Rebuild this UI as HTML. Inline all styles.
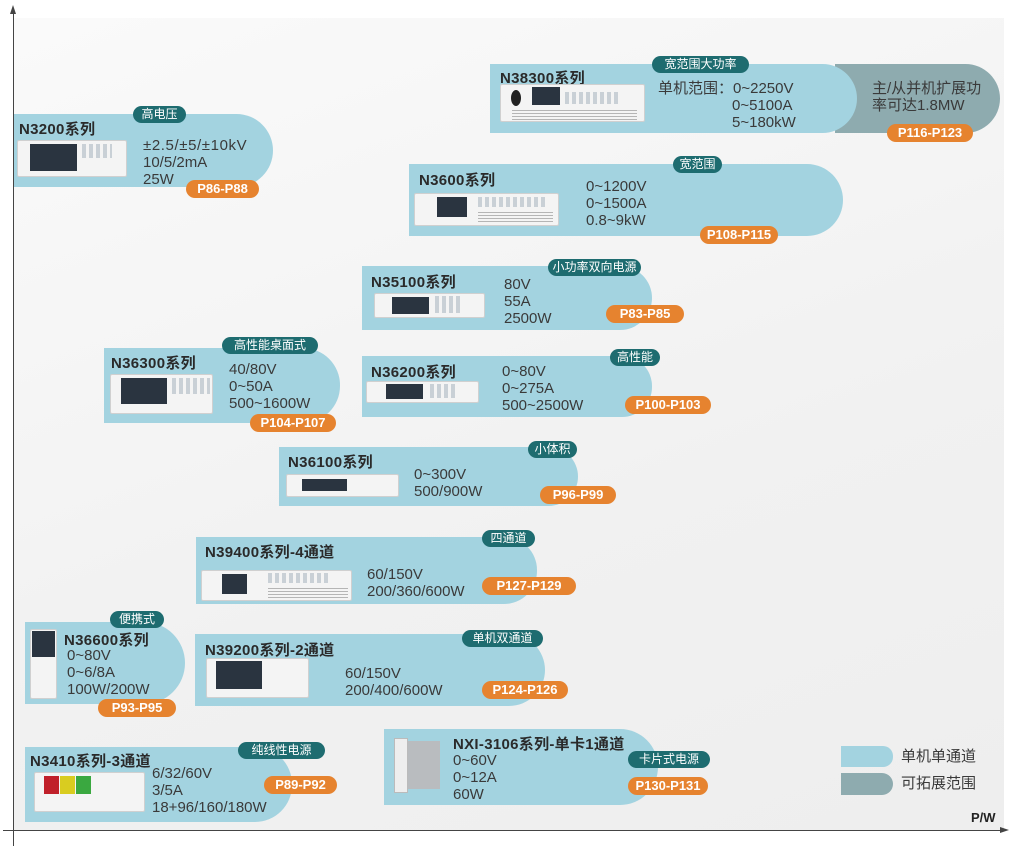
<!DOCTYPE html>
<html><head><meta charset="utf-8">
<style>
*{margin:0;padding:0;box-sizing:border-box}
body{width:1024px;height:851px;position:relative;overflow:hidden;background:#fff;font-family:"Liberation Sans","Noto Sans CJK SC",sans-serif;color:#2b2b2b}
.bg{position:absolute;left:14px;top:18px;width:990px;height:812px;background:linear-gradient(160deg,#fafafa 0%,#f1f1f1 60%,#eeeeee 100%)}
.s{position:absolute;background:#a3d3e0}
.t{position:absolute;font-size:15px;font-weight:bold;color:#2a2a2a;white-space:nowrap;letter-spacing:0.3px}
.p{position:absolute;font-size:15px;line-height:17px;color:#3a3a3a;white-space:nowrap}
.tag{position:absolute;background:#1e6c70;color:#fff;font-size:12px;line-height:17px;height:17px;border-radius:9px;text-align:center;white-space:nowrap}
.or{position:absolute;background:#e6832f;color:#fff;font-size:13px;font-weight:bold;line-height:18px;height:18px;border-radius:9px;text-align:center;white-space:nowrap}
.dev{position:absolute;background:#f4f4f4;border:1px solid #d0d0d0;border-radius:2px}
.scr{position:absolute;background:#2a3440}
.keys{position:absolute;background:repeating-linear-gradient(90deg,#c9d0d6 0 4px,transparent 4px 7px)}
.vent{position:absolute;background:repeating-linear-gradient(0deg,#b5b5b5 0 1px,transparent 1px 3px)}
</style></head><body>
<div class="bg"></div>
<div style="position:absolute;left:13px;top:10px;width:1px;height:836px;background:#444"></div>
<div style="position:absolute;left:10px;top:5px;width:0;height:0;border-left:3px solid transparent;border-right:3px solid transparent;border-bottom:9px solid #444"></div>
<div style="position:absolute;left:3px;top:830px;width:1000px;height:1px;background:#444"></div>
<div style="position:absolute;left:1000px;top:827px;width:0;height:0;border-top:3px solid transparent;border-bottom:3px solid transparent;border-left:9px solid #444"></div>
<div style="position:absolute;left:971px;top:810px;font-size:13px;font-weight:bold;color:#222">P/W</div>

<div class="s" style="left:14px;top:114px;width:259px;height:73px;border-radius:0 37px 37px 0"></div>
<div class="t" style="left:19px;top:118px">N3200系列</div>
<div class="dev" style="left:17px;top:140px;width:110px;height:37px"></div><div class="scr" style="left:30px;top:144px;width:47px;height:27px"></div><div class="keys" style="left:82px;top:144px;width:30px;height:14px"></div>
<div class="p" style="left:143px;top:137px"><span style="letter-spacing:0.6px">±2.5/±5/±10kV</span><br>10/5/2mA<br>25W</div>
<div class="tag" style="left:133px;top:106px;width:53px">高电压</div>
<div class="or" style="left:186px;top:180px;width:73px">P86-P88</div>

<div class="s" style="left:835px;top:64px;width:165px;height:69px;background:#8eabaf;border-radius:0 35px 35px 0"></div>
<div class="s" style="left:490px;top:64px;width:367px;height:69px;border-radius:0 35px 35px 0"></div>
<div class="t" style="left:500px;top:67px">N38300系列</div>
<div class="dev" style="left:500px;top:84px;width:145px;height:38px"></div><div class="scr" style="left:532px;top:87px;width:28px;height:18px"></div><div class="keys" style="left:565px;top:92px;width:55px;height:12px"></div><div class="vent" style="left:512px;top:108px;width:125px;height:12px"></div>
<div style="position:absolute;left:511px;top:90px;width:10px;height:16px;border-radius:50%;background:#222"></div>
<div class="p" style="left:658px;top:80px">单机范围：0~2250V</div>
<div class="p" style="left:732px;top:97px">0~5100A<br>5~180kW</div>
<div class="p" style="left:872px;top:80px">主/从并机扩展功<br>率可达1.8MW</div>
<div class="tag" style="left:652px;top:56px;width:97px">宽范围大功率</div>
<div class="or" style="left:887px;top:124px;width:86px">P116-P123</div>

<div class="s" style="left:409px;top:164px;width:434px;height:72px;border-radius:0 36px 36px 0"></div>
<div class="t" style="left:419px;top:169px">N3600系列</div>
<div class="dev" style="left:414px;top:193px;width:145px;height:33px"></div><div class="scr" style="left:437px;top:197px;width:30px;height:20px"></div><div class="keys" style="left:478px;top:197px;width:70px;height:10px"></div><div class="vent" style="left:478px;top:210px;width:75px;height:12px"></div>
<div class="p" style="left:586px;top:178px">0~1200V<br>0~1500A<br>0.8~9kW</div>
<div class="tag" style="left:673px;top:156px;width:49px">宽范围</div>
<div class="or" style="left:700px;top:226px;width:78px">P108-P115</div>

<div class="s" style="left:362px;top:266px;width:290px;height:64px;border-radius:0 32px 32px 0"></div>
<div class="t" style="left:371px;top:271px">N35100系列</div>
<div class="dev" style="left:374px;top:293px;width:111px;height:25px"></div><div class="scr" style="left:392px;top:297px;width:37px;height:17px"></div><div class="keys" style="left:435px;top:296px;width:25px;height:17px"></div>
<div class="p" style="left:504px;top:276px">80V<br>55A<br>2500W</div>
<div class="tag" style="left:548px;top:259px;width:93px">小功率双向电源</div>
<div class="or" style="left:606px;top:305px;width:78px">P83-P85</div>

<div class="s" style="left:104px;top:348px;width:236px;height:75px;border-radius:0 37px 37px 0"></div>
<div class="t" style="left:111px;top:352px">N36300系列</div>
<div class="dev" style="left:110px;top:374px;width:103px;height:40px"></div><div class="scr" style="left:121px;top:378px;width:46px;height:26px"></div><div class="keys" style="left:172px;top:378px;width:38px;height:16px"></div>
<div class="p" style="left:229px;top:361px">40/80V<br>0~50A<br>500~1600W</div>
<div class="tag" style="left:222px;top:337px;width:96px">高性能桌面式</div>
<div class="or" style="left:250px;top:414px;width:86px">P104-P107</div>

<div class="s" style="left:362px;top:356px;width:290px;height:61px;border-radius:0 30px 30px 0"></div>
<div class="t" style="left:371px;top:361px">N36200系列</div>
<div class="dev" style="left:366px;top:381px;width:113px;height:22px"></div><div class="scr" style="left:386px;top:384px;width:37px;height:15px"></div><div class="keys" style="left:430px;top:384px;width:25px;height:14px"></div>
<div class="p" style="left:502px;top:363px">0~80V<br>0~275A<br>500~2500W</div>
<div class="tag" style="left:610px;top:349px;width:50px">高性能</div>
<div class="or" style="left:625px;top:396px;width:86px">P100-P103</div>

<div class="s" style="left:279px;top:447px;width:299px;height:59px;border-radius:0 30px 30px 0"></div>
<div class="t" style="left:288px;top:451px">N36100系列</div>
<div class="dev" style="left:286px;top:474px;width:113px;height:23px"></div><div class="scr" style="left:302px;top:479px;width:45px;height:12px"></div>
<div class="p" style="left:414px;top:466px">0~300V<br>500/900W</div>
<div class="tag" style="left:528px;top:441px;width:49px">小体积</div>
<div class="or" style="left:540px;top:486px;width:76px">P96-P99</div>

<div class="s" style="left:196px;top:537px;width:341px;height:67px;border-radius:0 33px 33px 0"></div>
<div class="t" style="left:205px;top:541px">N39400系列-4通道</div>
<div class="dev" style="left:201px;top:570px;width:151px;height:31px"></div><div class="scr" style="left:222px;top:574px;width:25px;height:20px"></div><div class="keys" style="left:268px;top:573px;width:60px;height:10px"></div><div class="vent" style="left:268px;top:586px;width:80px;height:12px"></div>
<div class="p" style="left:367px;top:566px">60/150V<br>200/360/600W</div>
<div class="tag" style="left:482px;top:530px;width:53px">四通道</div>
<div class="or" style="left:482px;top:577px;width:94px">P127-P129</div>

<div class="s" style="left:25px;top:622px;width:160px;height:82px;border-radius:0 41px 41px 0"></div>
<div class="dev" style="left:30px;top:629px;width:27px;height:70px"></div><div class="scr" style="left:32px;top:631px;width:23px;height:26px"></div>
<div class="t" style="left:64px;top:629px">N36600系列</div>
<div class="p" style="left:67px;top:647px">0~80V<br>0~6/8A<br>100W/200W</div>
<div class="tag" style="left:110px;top:611px;width:54px">便携式</div>
<div class="or" style="left:98px;top:699px;width:78px">P93-P95</div>

<div class="s" style="left:195px;top:634px;width:350px;height:72px;border-radius:0 36px 36px 0"></div>
<div class="t" style="left:205px;top:639px">N39200系列-2通道</div>
<div class="dev" style="left:206px;top:658px;width:103px;height:40px"></div><div class="scr" style="left:216px;top:661px;width:46px;height:28px"></div>
<div class="p" style="left:345px;top:665px">60/150V<br>200/400/600W</div>
<div class="tag" style="left:462px;top:630px;width:81px">单机双通道</div>
<div class="or" style="left:482px;top:681px;width:86px">P124-P126</div>

<div class="s" style="left:25px;top:747px;width:267px;height:75px;border-radius:0 37px 37px 0"></div>
<div class="t" style="left:30px;top:750px">N3410系列-3通道</div>
<div class="dev" style="left:34px;top:772px;width:111px;height:40px"></div>
<div style="position:absolute;left:44px;top:776px;width:15px;height:18px;background:#c0202a"></div><div style="position:absolute;left:60px;top:776px;width:15px;height:18px;background:#d9cc20"></div><div style="position:absolute;left:76px;top:776px;width:15px;height:18px;background:#3aa840"></div>
<div class="p" style="left:152px;top:765px">6/32/60V<br>3/5A<br>18+96/160/180W</div>
<div class="tag" style="left:238px;top:742px;width:87px">纯线性电源</div>
<div class="or" style="left:264px;top:776px;width:73px">P89-P92</div>

<div class="s" style="left:384px;top:729px;width:274px;height:76px;border-radius:0 38px 38px 0"></div>
<div style="position:absolute;left:394px;top:738px;width:14px;height:55px;background:#eee;border:1px solid #bbb"></div>
<div style="position:absolute;left:408px;top:741px;width:32px;height:48px;background:#b9bcbf"></div>
<div class="t" style="left:453px;top:733px">NXI-3106系列-单卡1通道</div>
<div class="p" style="left:453px;top:752px">0~60V<br>0~12A<br>60W</div>
<div class="tag" style="left:628px;top:751px;width:82px">卡片式电源</div>
<div class="or" style="left:628px;top:777px;width:80px">P130-P131</div>

<div class="s" style="left:841px;top:746px;width:52px;height:21px;border-radius:0 10px 10px 0"></div>
<div class="s" style="left:841px;top:773px;width:52px;height:22px;background:#8eabaf;border-radius:0 11px 11px 0"></div>
<div class="p" style="left:901px;top:748px">单机单通道</div>
<div class="p" style="left:901px;top:775px">可拓展范围</div>
</body></html>
